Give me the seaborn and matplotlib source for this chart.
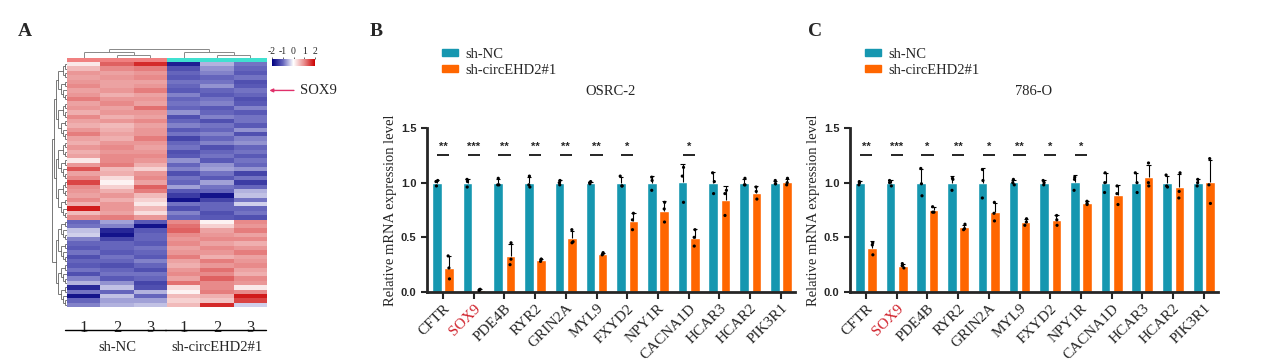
import numpy as np
import pandas as pd
import seaborn as sns
import matplotlib.pyplot as plt
from matplotlib.colors import LinearSegmentedColormap, ListedColormap
from matplotlib.collections import LineCollection
from matplotlib.patches import Patch

W, H = 1269, 360

# ---------------- heatmap data (z-scores) ----------------
sample_labels = ["1", "2", "3", "1", "2", "3"]
sample_groups = ["sh-NC", "sh-NC", "sh-NC", "sh-circEHD2#1", "sh-circEHD2#1", "sh-circEHD2#1"]

# genes down after knockdown (NC high)
heat_down = [
    [0.2, 1.3, 1.7, -1.7, -0.5, -0.9],
    [0.6, 1.0, 1.1, -1.2, -0.7, -1.0],
    [0.9, 0.8, 0.9, -1.0, -0.8, -1.1],
    [0.8, 0.9, 1.0, -1.1, -1.0, -0.9],
    [0.9, 0.8, 0.8, -0.9, -0.9, -1.2],
    [1.0, 0.8, 0.9, -1.0, -0.7, -1.1],
    [0.8, 0.9, 1.1, -1.1, -1.0, -0.9],
    [0.9, 0.7, 0.8, -0.8, -1.1, -1.0],
    [1.1, 0.9, 0.9, -1.0, -0.9, -1.2],
    [0.8, 1.0, 0.8, -0.9, -0.8, -1.1],
    [0.9, 0.8, 1.2, -1.0, -1.1, -0.8],
    [0.7, 0.9, 0.9, -0.7, -1.0, -1.1],
    [1.0, 0.7, 0.8, -1.2, -0.8, -0.9],
    [0.8, 0.9, 1.0, -1.0, -1.2, -0.9],
    [0.7, 0.6, 0.8, -0.8, -0.9, -1.1],
    [0.9, 0.7, 0.9, -1.1, -1.0, -0.7],
    [1.1, 0.8, 0.9, -0.9, -0.8, -1.2],
    [0.8, 0.7, 1.1, -1.3, -1.0, -0.8],
    [0.7, 0.9, 0.9, -1.0, -0.8, -0.7],
    [0.9, 1.0, 0.8, -0.9, -1.2, -1.0],
    [0.7, 0.9, 0.9, -1.2, -1.0, -0.9],
    [0.8, 1.0, 1.0, -1.1, -0.9, -1.1],
    [0.2, 1.0, 0.9, -0.7, -1.1, -0.9],
    [0.9, 1.1, 0.7, -1.0, -0.7, -1.0],
    [1.4, 0.6, 0.4, -0.8, -0.6, -0.7],
    [0.8, 0.7, 0.9, -1.2, -0.9, -1.3],
    [1.0, 0.3, 1.0, -0.9, -1.1, -0.9],
    [1.5, 0.1, 0.8, -1.0, -0.6, -1.4],
    [1.0, 0.4, 1.3, -0.6, -0.9, -1.0],
    [0.9, 0.7, 1.1, -1.1, -1.0, -0.5],
    [0.8, 0.9, 0.6, -1.4, -1.8, -0.4],
    [1.0, 0.7, 0.4, -1.8, -1.3, -0.9],
    [0.7, 0.9, 0.2, -0.9, -1.0, -0.3],
    [1.8, 0.9, 0.6, -1.2, -1.0, -1.0],
    [0.6, 0.8, 0.3, -0.8, -1.2, -0.9],
    [1.0, 1.1, 0.9, -1.0, -1.1, -1.2],
]
# genes up after knockdown (NC low)
heat_up = [
    [-1.0, -0.6, -1.1, 1.0, 0.1, 1.0],
    [-0.9, -0.8, -1.8, 1.2, 0.4, 0.9],
    [-0.4, -1.6, -1.1, 1.3, 0.8, 1.1],
    [-0.3, -1.8, -1.0, 1.0, 0.9, 0.8],
    [-0.8, -1.3, -1.0, 0.9, 1.0, 1.0],
    [-1.0, -1.0, -1.1, 1.0, 0.8, 0.7],
    [-1.1, -1.0, -0.9, 0.8, 1.0, 0.9],
    [-0.9, -1.1, -1.0, 0.9, 0.9, 1.1],
    [-1.2, -0.9, -1.1, 1.1, 0.7, 0.8],
    [-1.0, -1.0, -0.8, 0.8, 1.1, 0.9],
    [-1.1, -1.2, -1.0, 0.7, 0.9, 1.0],
    [-0.9, -1.0, -1.2, 0.9, 1.2, 0.8],
    [-1.2, -0.9, -0.9, 1.0, 1.0, 0.7],
    [-0.8, -1.1, -1.0, 0.8, 1.3, 1.0],
    [-0.5, -0.7, -1.3, 1.2, 1.0, 0.9],
    [-1.6, -0.4, -1.2, 0.3, 1.0, 0.2],
    [-0.9, -1.0, -0.5, 0.1, 1.1, 1.0],
    [-1.8, -0.4, -1.0, 0.6, 0.7, 1.8],
    [-1.0, -0.6, -0.6, 0.4, 0.5, 1.5],
    [-0.8, -0.5, -0.4, 0.6, 1.7, -0.3],
]
sox9_row = 6

# ---------------- qPCR data (3 replicates each) ----------------
genes = ["CFTR", "SOX9", "PDE4B", "RYR2", "GRIN2A", "MYL9", "FXYD2",
         "NPY1R", "CACNA1D", "HCAR3", "HCAR2", "PIK3R1"]
groups = ["sh-NC", "sh-circEHD2#1"]

osrc_nc = [[1.02, 0.97, 1.01], [1.03, 0.96, 1.01], [1.04, 0.98, 0.98], [1.06, 0.96, 0.98],
           [1.02, 0.98, 1.00], [1.00, 1.01, 0.99], [1.06, 0.97, 0.97], [1.05, 0.93, 1.02],
           [1.14, 1.06, 0.82], [1.09, 1.01, 0.90], [1.04, 0.98, 0.98], [1.02, 0.99, 0.99]]
osrc_kd = [[0.22, 0.12, 0.33], [0.02, 0.025, 0.015], [0.45, 0.30, 0.25], [0.30, 0.28, 0.30],
           [0.57, 0.46, 0.45], [0.36, 0.35, 0.34], [0.72, 0.66, 0.57], [0.82, 0.76, 0.64],
           [0.57, 0.50, 0.42], [0.93, 0.90, 0.70], [0.96, 0.92, 0.85], [1.04, 1.00, 0.98]]
osrc_sig = ["**", "***", "**", "**", "**", "**", "*", "", "*", "", "", ""]

o786_nc = [[1.01, 1.00, 0.98], [1.02, 1.00, 0.97], [1.13, 0.99, 0.88], [1.04, 1.03, 0.93],
           [1.12, 1.02, 0.86], [1.03, 1.00, 0.98], [1.02, 1.00, 0.98], [1.05, 1.03, 0.93],
           [1.09, 1.00, 0.91], [1.09, 1.00, 0.91], [1.07, 0.97, 0.96], [1.03, 1.00, 0.97]]
o786_kd = [[0.45, 0.43, 0.34], [0.26, 0.24, 0.22], [0.78, 0.73, 0.73], [0.62, 0.58, 0.57],
           [0.82, 0.72, 0.65], [0.67, 0.64, 0.61], [0.70, 0.66, 0.61], [0.83, 0.81, 0.80],
           [0.97, 0.90, 0.80], [1.18, 1.00, 0.97], [1.09, 0.92, 0.86], [1.22, 0.98, 0.81]]
o786_sig = ["**", "***", "*", "**", "*", "**", "*", "*", "", "", "", ""]

bar_colors = ["#1697b0", "#ff6600"]
group_bar_colors = ["#f08080", "#40e0d0"]

sns.set_style("ticks")
serif = ["Liberation Serif", "DejaVu Serif"]
narrow = ["Liberation Sans Narrow", "Liberation Sans", "DejaVu Sans"]
plt.rcParams["font.family"] = serif
plt.rcParams["axes.linewidth"] = 2
plt.rcParams["axes.unicode_minus"] = False


def fbox(x0, y0, x1, y1):
    return [x0 / W, 1 - y1 / H, (x1 - x0) / W, (y1 - y0) / H]


def tree_segments(lo, hi, segs, split=None):
    if hi - lo == 1:
        return lo + 0.5, 0.0
    mid = split if split is not None else (lo + hi) // 2
    c1, h1 = tree_segments(lo, mid, segs)
    c2, h2 = tree_segments(mid, hi, segs)
    h = max(h1, h2) + 1
    segs += [[(c1, h1), (c1, h)], [(c2, h2), (c2, h)], [(c1, h), (c2, h)]]
    return (c1 + c2) / 2, h


fig = plt.figure(figsize=(W / 100, H / 100), dpi=100)

# ---------------- panel A ----------------
heat = pd.DataFrame(heat_down + heat_up)
n_rows = heat.shape[0]
cmap = LinearSegmentedColormap.from_list(
    "bwr_z", ["#000080", "#6464bc", "#ffffff", "#e88c8c", "#cc0000"])

ax_h = fig.add_axes(fbox(67, 62, 267, 307))
ax_cb = fig.add_axes(fbox(272, 59, 315, 66))
sns.heatmap(heat, cmap=cmap, vmin=-2, vmax=2, ax=ax_h, cbar_ax=ax_cb,
            cbar_kws={"orientation": "horizontal", "ticks": [-2, -1, 0, 1, 2]},
            xticklabels=sample_labels, yticklabels=False)
ax_h.tick_params(axis="x", length=0, pad=9, labelsize=12)
ax_cb.xaxis.set_ticks_position("top")
ax_cb.tick_params(length=1.5, width=0.5, labelsize=7, pad=0.5)
for s in ax_cb.spines.values():
    s.set_visible(False)

# group lines and labels under heatmap
trans = ax_h.get_xaxis_transform()
for g in ["sh-NC", "sh-circEHD2#1"]:
    idx = [i for i, s in enumerate(sample_groups) if s == g]
    ax_h.plot([idx[0] - 0.05, idx[-1] + 0.98], [-0.094, -0.094], color="black",
              lw=1, transform=trans, clip_on=False)
    ax_h.text((idx[0] + idx[-1] + 1) / 2, -0.165, g, transform=trans,
              ha="center", va="center", fontsize=10.5)

# sample group colour strip
ax_gs = fig.add_axes(fbox(67, 58, 267, 62))
strip = [[groups.index(g) for g in sample_groups]]
sns.heatmap(strip, cmap=ListedColormap(group_bar_colors), cbar=False, ax=ax_gs,
            xticklabels=False, yticklabels=False)

# column dendrogram
ax_cd = fig.add_axes(fbox(67, 49, 267, 58))
segs = []
tree_segments(0, len(sample_labels), segs)
ax_cd.add_collection(LineCollection(segs, colors="#888888", linewidths=0.7))
ax_cd.set_xlim(0, len(sample_labels))
ax_cd.set_ylim(0, 3)
ax_cd.axis("off")

# row dendrogram
ax_rd = fig.add_axes(fbox(52, 62, 67, 307))
segs = []
tree_segments(0, n_rows, segs, split=len(heat_down))
segs = [[(h, c) for c, h in s] for s in segs]
ax_rd.add_collection(LineCollection(segs, colors="#444444", linewidths=0.5))
ax_rd.set_ylim(n_rows, 0)
ax_rd.set_xlim(7, 0)
ax_rd.axis("off")

ax_h.annotate("SOX9", xy=(1.012, 1 - (sox9_row + 0.5) / n_rows),
              xytext=(1.165, 1 - (sox9_row + 0.5) / n_rows),
              xycoords="axes fraction", textcoords="axes fraction",
              va="center", ha="left", fontsize=10.5,
              arrowprops=dict(arrowstyle="-|>", color="#e0306a", lw=1,
                              mutation_scale=5, shrinkA=2, shrinkB=0))


# ---------------- panels B, C ----------------
def bar_panel(ax, nc, kd, sig, title):
    rows = []
    for g, a, b in zip(genes, nc, kd):
        rows += [(g, groups[0], v) for v in a]
        rows += [(g, groups[1], v) for v in b]
    df = pd.DataFrame(rows, columns=["gene", "group", "value"])

    sns.barplot(data=df, x="gene", y="value", hue="group", hue_order=groups,
                order=genes, palette=bar_colors, errorbar=None, width=0.8,
                gap=0.22, saturation=1, legend=False, ax=ax)

    stats = df.groupby(["gene", "group"])["value"].agg(["mean", "std"]).reset_index()
    x = stats["gene"].map(genes.index) + np.where(stats["group"] == groups[0], -0.2, 0.2)
    top = stats["mean"] + stats["std"]
    ax.vlines(x, stats["mean"], top, color="black", lw=0.8, zorder=3)
    ax.hlines(top, x - 0.07, x + 0.07, color="black", lw=0.8, zorder=3)

    sns.stripplot(data=df, x="gene", y="value", hue="group", hue_order=groups,
                  order=genes, dodge=True, jitter=0.07, palette=["black", "black"],
                  size=2.3, legend=False, ax=ax, zorder=4)

    for i, s in enumerate(sig):
        if s:
            ax.hlines(1.255, i - 0.2, i + 0.2, color="black", lw=1.2)
            ax.text(i, 1.285, s, ha="center", va="bottom", fontsize=8,
                    fontweight="bold", family=narrow)

    ax.set_xlim(-0.52, len(genes) - 0.54)
    ax.set_ylim(0, 1.5)
    ax.set_yticks([0, 0.5, 1.0, 1.5])
    ax.set_yticklabels(["0.0", "0.5", "1.0", "1.5"], family=narrow,
                       fontweight="bold", fontsize=8)
    ax.set_xlabel("")
    ax.set_ylabel("Relative mRNA expression level", fontsize=10.5, labelpad=3)
    ax.tick_params(axis="both", width=1.5, length=4)
    ax.tick_params(axis="x", length=5, pad=2)
    plt.setp(ax.get_xticklabels(), rotation=45, ha="right",
             rotation_mode="anchor", fontsize=11)
    ax.get_xticklabels()[genes.index("SOX9")].set_color("#d0202a")
    sns.despine(ax=ax)
    ax.text(0.5, 1.22, title, transform=ax.transAxes, ha="center",
            va="center", fontsize=10.5)

    handles = [Patch(color=c, label=l) for c, l in zip(bar_colors, groups)]
    left = ax.get_position().x0 + 15 / W
    ax.legend(handles=handles, loc="upper left",
              bbox_to_anchor=(left, 1 - 48 / H), bbox_transform=fig.transFigure,
              frameon=False, fontsize=10.5, handlelength=1.1, handleheight=0.35,
              handletextpad=0.5, labelspacing=0.2, borderaxespad=0, borderpad=0)


ax_b = fig.add_axes(fbox(427, 128, 795, 292))
bar_panel(ax_b, osrc_nc, osrc_kd, osrc_sig, "OSRC-2")
ax_c = fig.add_axes(fbox(850, 128, 1218, 292))
bar_panel(ax_c, o786_nc, o786_kd, o786_sig, "786-O")

for letter, x in [("A", 18), ("B", 370), ("C", 808)]:
    fig.text(x / W, 1 - 31 / H, letter, fontsize=14, fontweight="bold",
             va="center", ha="left")

fig.savefig("out.png", dpi=100)
